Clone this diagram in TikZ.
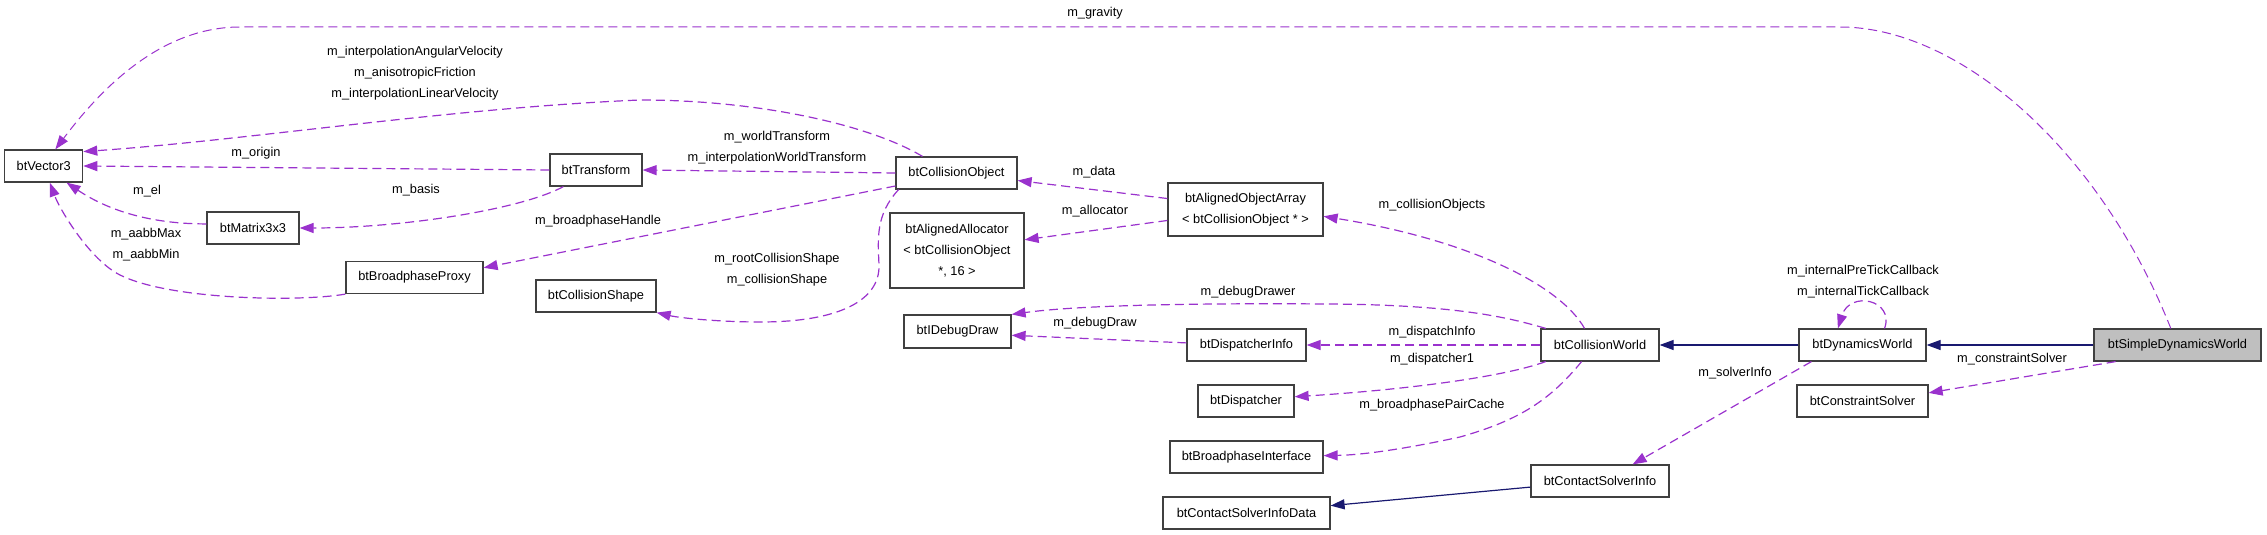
\documentclass[tikz,border=0pt]{standalone}
\usepackage{fontspec}
\setmainfont{Liberation Sans}
\usetikzlibrary{arrows.meta}
\definecolor{member}{HTML}{9A32CD}
\definecolor{navy}{HTML}{191970}

\begin{document}
\begin{tikzpicture}[x = 1pt, y = -1pt, line width = 1.2pt,
								font = \fontsize{12.8}{21}\selectfont,
								cls/.style = {rectangle, draw = black!75, fill =
								white, inner sep = 0pt, minimum height = 32pt, align = center},
								cur/.style = {cls, fill = black!25},
								usage/.style = {draw = member, dash pattern = on 9pt off 5pt,
								-{Triangle[length = 14pt, width = 10pt]}},
								inherit/.style = {draw = navy,
								-{Triangle[length = 14pt, width = 10pt]}},
								lbl/.style = {inner sep = 0pt, align = center},
								]
				\useasboundingbox (0,0) rectangle (2267,535);

				\node [cls, minimum width = 78pt] (c_vector3) at (43.7,166) {btVector3};
				\node [cls, minimum width = 92pt] (c_transform) at (596,170) {btTransform};
				\node [cls, minimum width = 92pt] (c_matrix) at (253,228) {btMatrix3x3};
				\node [cls, minimum width = 137pt] (c_bpproxy) at (414.5,277.5) {btBroadphaseProxy};
				\node [cls, minimum width = 120pt] (c_colshape) at (596,296) {btCollisionShape};
				\node [cls, minimum width = 121pt] (c_colobj) at (956.5,173) {btCollisionObject};
				\node [cls, minimum width = 134pt, minimum height = 75pt] (c_alloc) at (957,250.5)
				{btAlignedAllocator\\< btCollisionObject\\*, 16 >};
				\node [cls, minimum width = 155pt, minimum height = 53pt] (c_objarray) at (1245.5,209.5)
				{btAlignedObjectArray\\< btCollisionObject * >};
				\node [cls, minimum width = 107pt, minimum height = 33pt] (c_debugdraw) at (957.5,331.5) {btIDebugDraw};
				\node [cls, minimum width = 119pt] (c_dispinfo) at (1246.5,345) {btDispatcherInfo};
				\node [cls, minimum width = 96pt] (c_disp) at (1246,401) {btDispatcher};
				\node [cls, minimum width = 153pt] (c_bpiface) at (1246.5,457) {btBroadphaseInterface};
				\node [cls, minimum width = 167pt] (c_csdata) at (1246.5,513) {btContactSolverInfoData};
				\node [cls, minimum width = 118pt] (c_colworld) at (1600,345) {btCollisionWorld};
				\node [cls, minimum width = 138pt] (c_csinfo) at (1600,481) {btContactSolverInfo};
				\node [cls, minimum width = 127pt] (c_dynworld) at (1862.5,345) {btDynamicsWorld};
				\node [cls, minimum width = 131pt] (c_csolver) at (1862.5,401) {btConstraintSolver};
				\node [cur, minimum width = 167pt] (c_simworld) at (2177.5,345) {btSimpleDynamicsWorld};

				\draw [usage, line width = 1pt] (c_simworld.112) .. controls (2100,150) and (1960,27) .. (1840,27)
				-- (240,27) .. controls (160,27) and (100,90) .. (c_vector3.55);
				\draw [usage] (c_colobj.154) .. controls (870,125) and (760,100) .. (640,100)
				.. controls (450,108) and (250,140) .. (c_vector3.20);
				\draw [usage] (c_transform.west) -- (c_vector3.east);
				\draw [usage] (c_colobj.west) -- (c_transform.east);
				\draw [usage] (c_matrix.175) .. controls (140,224) and (100,205) .. (c_vector3.-36);
				\draw [usage] (c_transform.207) .. controls (520,210) and (400,228) .. (c_matrix.east);
				\draw [usage] (c_bpproxy.south west) .. controls (300,302) and (170,300) .. (120,275)
				.. controls (90,260) and (60,210) .. (c_vector3.-70);
				\draw [usage] (c_colobj.192) -- (c_bpproxy.8);
				\draw [usage] (c_colobj.196) .. controls (875,215) and (878,240) .. (879,265)
				.. controls (880,300) and (840,322) .. (760,322)
				.. controls (720,322) and (680,318) .. (c_colshape.south east);
				\draw [usage] (c_objarray.172) -- (c_colobj.353);
				\draw [usage] (c_objarray.188) -- (c_alloc.9);
				\draw [usage] (c_colworld.133) .. controls (1560,285) and (1470,240) .. (c_objarray.355);
				\draw [usage] (c_colworld.163) .. controls (1510,318) and (1460,305) .. (1330,304)
				.. controls (1200,303) and (1080,305) .. (c_debugdraw.north east);
				\draw [usage] (c_dispinfo.178) -- (c_debugdraw.-4);
				\draw [usage] (c_colworld.west) -- (c_dispinfo.east);
				\draw [usage] (c_colworld.197) .. controls (1500,378) and (1400,390) .. (c_disp.5);
				\draw [usage] (c_colworld.222) .. controls (1550,400) and (1520,420) .. (1460,437)
				.. controls (1400,450) and (1360,455) .. (c_bpiface.1);
				\draw [inherit] (c_dynworld.west) -- (c_colworld.east);
				\draw [inherit] (c_simworld.west) -- (c_dynworld.east);
				\draw [inherit] (c_csinfo.185) -- (c_csdata.5);
				\draw [usage] (c_dynworld.198) -- (c_csinfo.27);
				\draw [usage] (c_dynworld.37) .. controls (1895,300) and (1850,290) .. (c_dynworld.146);
				\draw [usage] (c_simworld.195) -- (c_csolver.7);

				\node [lbl] (l_gravity) at (1095,13) {m\_gravity};
				\node [lbl] (l_velocity) at (415,73.5)
				{m\_interpolationAngularVelocity\\m\_anisotropicFriction\\m\_interpolationLinearVelocity};
				\node [lbl] (l_origin) at (256,153) {m\_origin};
				\node [lbl] (l_el) at (147,191) {m\_el};
				\node [lbl] (l_basis) at (416,190) {m\_basis};
				\node [lbl] (l_aabb) at (146,244.5) {m\_aabbMax\\m\_aabbMin};
				\node [lbl] (l_handle) at (598,221) {m\_broadphaseHandle};
				\node [lbl] (l_worldtrans) at (777,148) {m\_worldTransform\\m\_interpolationWorldTransform};
				\node [lbl] (l_shape) at (777,269.5) {m\_rootCollisionShape\\m\_collisionShape};
				\node [lbl] (l_data) at (1094,172) {m\_data};
				\node [lbl] (l_allocator) at (1095,211) {m\_allocator};
				\node [lbl] (l_objects) at (1432,205) {m\_collisionObjects};
				\node [lbl] (l_drawer) at (1248,292) {m\_debugDrawer};
				\node [lbl] (l_draw) at (1095,323) {m\_debugDraw};
				\node [lbl] (l_dispinfo) at (1432,332) {m\_dispatchInfo};
				\node [lbl] (l_disp) at (1432,359) {m\_dispatcher1};
				\node [lbl] (l_paircache) at (1432,405) {m\_broadphasePairCache};
				\node [lbl] (l_solverinfo) at (1735,373) {m\_solverInfo};
				\node [lbl] (l_callback) at (1863,281.5) {m\_internalPreTickCallback\\m\_internalTickCallback};
				\node [lbl] (l_solver) at (2012,359) {m\_constraintSolver};
			\end{tikzpicture}
\end{document}
